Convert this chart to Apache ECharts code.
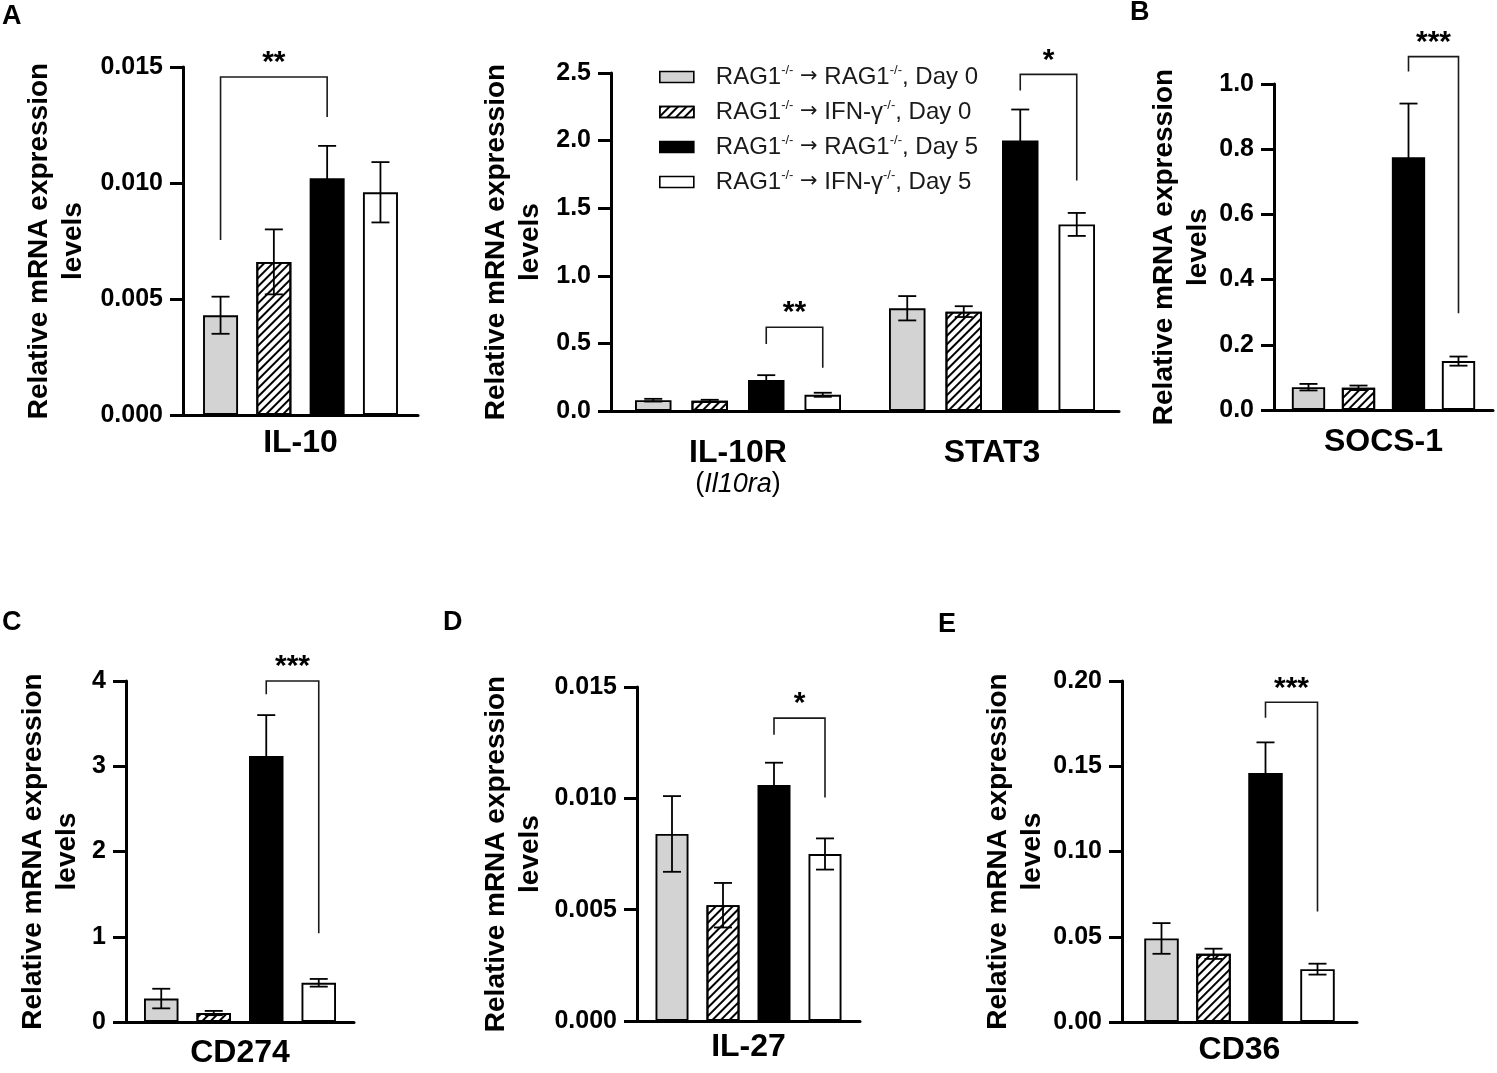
<!DOCTYPE html>
<html>
<head>
<meta charset="utf-8">
<script src="https://cdn.jsdelivr.net/npm/echarts@6/dist/echarts.min.js"></script>
<style>
  html, body { margin: 0; padding: 0; background: #fff; }
  #chart { width: 1497px; height: 1073px; }
</style>
</head>
<body>
<div id="chart"></div>
<script>
// groups (series), one per bar colour
var groups = [
  'RAG1-/- → RAG1-/-, Day 0',
  'RAG1-/- → IFN-γ-/-, Day 0',
  'RAG1-/- → RAG1-/-, Day 5',
  'RAG1-/- → IFN-γ-/-, Day 5'
];

// A, left: IL-10
var il10Cats = ['IL-10'];
var il10Mean = [[0.0043], [0.0066], [0.0102], [0.0096]];
var il10Sem  = [[0.0008], [0.0014], [0.0014], [0.0013]];
// [category, group a, group b, bracket top, left leg end, right leg end]
var il10Sig  = [[0, 0, 2, 0.01457, 0.00754, 0.01284]];
var il10Stars = ['**'];

// A, right: IL-10R and STAT3
var a2Cats = ['IL-10R', 'STAT3'];
var a2Genes = ['Il10ra', ''];
var a2Mean = [[0.080, 0.760], [0.075, 0.735], [0.230, 2.000], [0.120, 1.380]];
var a2Sem  = [[0.010, 0.090], [0.008, 0.040], [0.035, 0.230], [0.015, 0.085]];
var a2Sig  = [[0, 2, 3, 0.62, 0.496, 0.32], [1, 2, 3, 2.49, 2.37, 1.705]];
var a2Stars = ['**', '*'];

// B: SOCS-1
var socsCats = ['SOCS-1'];
var socsMean = [[0.070], [0.068], [0.775], [0.150]];
var socsSem  = [[0.010], [0.007], [0.165], [0.014]];
var socsSig  = [[0, 2, 3, 1.084, 1.038, 0.297]];
var socsStars = ['***'];

// C: CD274
var cd274Cats = ['CD274'];
var cd274Mean = [[0.275], [0.105], [3.12], [0.46]];
var cd274Sem  = [[0.115], [0.025], [0.48], [0.045]];
var cd274Sig  = [[0, 2, 3, 4.0, 3.844, 1.04]];
var cd274Stars = ['***'];

// D: IL-27
var il27Cats = ['IL-27'];
var il27Mean = [[0.0084], [0.0052], [0.0106], [0.0075]];
var il27Sem  = [[0.0017], [0.0010], [0.0010], [0.0007]];
var il27Sig  = [[0, 2, 3, 0.0136, 0.01286, 0.01004]];
var il27Stars = ['*'];

// E: CD36
var cd36Cats = ['CD36'];
var cd36Mean = [[0.049], [0.040], [0.146], [0.031]];
var cd36Sem  = [[0.009], [0.003], [0.018], [0.0032]];
var cd36Sig  = [[0, 2, 3, 0.1875, 0.1785, 0.0648]];
var cd36Stars = ['***'];

// y axes: max, step, decimals
var yMax = [0.015, 2.5, 1.0, 4, 0.015, 0.20];
var yStep = [0.005, 0.5, 0.2, 1, 0.005, 0.05];
var yDec = [3, 1, 1, 0, 3, 2];

var FONT = '"Liberation Sans", Arial, Helvetica, sans-serif';

// layout of the six panels
var panels = [
  {cats: il10Cats, mean: il10Mean, sem: il10Sem, sig: il10Sig, stars: il10Stars,
   grid: {left: 183, top: 67, width: 235, height: 348}, bw: 35, gap: 18.3, nameGap: 93, catMargin: 13},
  {cats: a2Cats, mean: a2Mean, sem: a2Sem, sig: a2Sig, stars: a2Stars, genes: a2Genes,
   grid: {left: 611, top: 73, width: 508, height: 338}, bw: 36.5, gap: 20, nameGap: 64, catMargin: 27},
  {cats: socsCats, mean: socsMean, sem: socsSem, sig: socsSig, stars: socsStars,
   grid: {left: 1274, top: 84, width: 219, height: 326}, bw: 33.3, gap: 16.7, nameGap: 57, catMargin: 17},
  {cats: cd274Cats, mean: cd274Mean, sem: cd274Sem, sig: cd274Sig, stars: cd274Stars,
   grid: {left: 126, top: 681, width: 228, height: 341}, bw: 34.5, gap: 18, nameGap: 42, catMargin: 16},
  {cats: il27Cats, mean: il27Mean, sem: il27Sem, sig: il27Sig, stars: il27Stars,
   grid: {left: 637, top: 687, width: 223, height: 334}, bw: 33, gap: 18, nameGap: 90, catMargin: 11},
  {cats: cd36Cats, mean: cd36Mean, sem: cd36Sem, sig: cd36Sig, stars: cd36Stars,
   grid: {left: 1122, top: 681, width: 235, height: 341}, bw: 34.5, gap: 17.5, nameGap: 71, catMargin: 13}
];

var letters = [
  {text: 'A', left: 2, top: 3},
  {text: 'B', left: 1130, top: -1},
  {text: 'C', left: 2, top: 609},
  {text: 'D', left: 443, top: 609},
  {text: 'E', left: 938, top: 611}
];

var hatch = {
  symbol: 'rect', symbolSize: 1,
  dashArrayX: [1, 0], dashArrayY: [1.4, 3.4],
  rotation: -Math.PI / 4, color: '#000'
};
var barStyles = [
  {color: '#d3d3d3', borderColor: '#000', borderWidth: 1.9},
  {color: '#fff', borderColor: '#000', borderWidth: 1.9, decal: hatch},
  {color: '#000', borderColor: '#000', borderWidth: 1.9},
  {color: '#fff', borderColor: '#000', borderWidth: 1.9}
];

var option = {
  animation: false,
  backgroundColor: '#fff',
  textStyle: {fontFamily: FONT},
  title: letters.map(function (l) {
    return {text: l.text, left: l.left, top: l.top, padding: 0,
      textStyle: {fontFamily: FONT, fontSize: 27, fontWeight: 'bold', color: '#000'}};
  }),
  legend: {
    data: groups,
    orient: 'vertical',
    left: 659, top: 64,
    padding: 0,
    itemWidth: 34, itemHeight: 11, itemGap: 10,
    icon: 'rect',
    selectedMode: false,
    itemStyle: {borderColor: '#000', borderWidth: 1.6},
    formatter: function (name) {
      return name.split('-/-').map(function (s) {
        return s.split('→').map(function (t) { return '{n|' + t + '}'; }).join('{a|→}');
      }).join('{s|-/-}');
    },
    textStyle: {
      padding: [0, 0, 0, 17],
      rich: {
        n: {fontFamily: FONT, fontSize: 24, color: '#1a1a1a', lineHeight: 26},
        a: {fontFamily: '"DejaVu Sans", sans-serif', fontSize: 21, color: '#1a1a1a', lineHeight: 26},
        s: {fontFamily: FONT, fontSize: 13, color: '#1a1a1a', lineHeight: 14, verticalAlign: 'top'}
      }
    }
  },
  grid: [], xAxis: [], yAxis: [], series: []
};

panels.forEach(function (p, k) {
  var g = p.grid;
  option.grid.push({left: g.left, top: g.top, width: g.width, height: g.height, outerBoundsMode: 'none', containLabel: false});

  option.xAxis.push({
    type: 'category', gridIndex: k, data: p.cats,
    axisLine: {show: true, lineStyle: {color: '#000', width: 3}},
    axisTick: {show: false},
    splitLine: {show: false},
    axisLabel: {
      interval: 0, margin: p.catMargin, color: '#000',
      fontFamily: FONT, fontSize: 32, fontWeight: 'bold',
      formatter: function (v, idx) {
        var gene = p.genes ? p.genes[idx] : '';
        return gene ? '{b|' + v + '}\n{p|(}{i|' + gene + '}{p|)}' : '{b|' + v + '}';
      },
      rich: {
        b: {fontFamily: FONT, fontSize: 32, fontWeight: 'bold', color: '#000', lineHeight: 31},
        p: {fontFamily: FONT, fontSize: 27, fontWeight: 'normal', color: '#000', lineHeight: 30},
        i: {fontFamily: FONT, fontSize: 27, fontWeight: 'normal', fontStyle: 'italic', color: '#000', lineHeight: 30}
      }
    }
  });

  option.yAxis.push({
    type: 'value', gridIndex: k, min: 0, max: yMax[k], interval: yStep[k],
    splitLine: {show: false},
    axisLine: {show: true, lineStyle: {color: '#000', width: 3}},
    axisTick: {show: true, inside: false, length: 13, lineStyle: {color: '#000', width: 3}},
    axisLabel: {
      margin: 20, color: '#000', fontFamily: FONT, fontSize: 25, fontWeight: 'bold',
      formatter: function (v) { return v.toFixed(yDec[k]); }
    },
    name: 'Relative mRNA expression\nlevels',
    nameLocation: 'middle', nameGap: p.nameGap,
    nameTextStyle: {fontFamily: FONT, fontSize: 28, fontWeight: 'bold', color: '#000', lineHeight: 34}
  });

  var step = p.bw + p.gap;
  groups.forEach(function (name, i) {
    option.series.push({
      type: 'bar', name: name, xAxisIndex: k, yAxisIndex: k,
      data: p.mean[i], barWidth: p.bw, barGap: (p.gap / p.bw * 100) + '%',
      itemStyle: barStyles[i],
      emphasis: {disabled: true}
    });
  });

  // error bars (mean ± SEM)
  var ebData = [];
  p.mean.forEach(function (row, i) {
    row.forEach(function (m, c) { ebData.push([c, i, m, p.sem[i][c]]); });
  });
  option.series.push({
    type: 'custom', xAxisIndex: k, yAxisIndex: k, z: 5,
    encode: {x: 0, y: 2},
    data: ebData,
    silent: true,
    renderItem: function (params, api) {
      var c = api.value(0), i = api.value(1), m = api.value(2), s = api.value(3);
      var dx = (i - 1.5) * step;
      var hi = api.coord([c, m + s]);
      var lo = api.coord([c, m - s]);
      var x = hi[0] + dx, cap = 9;
      var st = {stroke: '#000', lineWidth: 1.8};
      return {type: 'group', children: [
        {type: 'line', shape: {x1: x, y1: hi[1], x2: x, y2: lo[1]}, style: st},
        {type: 'line', shape: {x1: x - cap, y1: hi[1], x2: x + cap, y2: hi[1]}, style: st},
        {type: 'line', shape: {x1: x - cap, y1: lo[1], x2: x + cap, y2: lo[1]}, style: st}
      ]};
    }
  });

  // significance brackets
  option.series.push({
    type: 'custom', xAxisIndex: k, yAxisIndex: k, z: 5,
    encode: {x: 0, y: 3},
    data: p.sig,
    silent: true,
    clip: false,
    renderItem: function (params, api) {
      var c = api.value(0), a = api.value(1), b = api.value(2);
      var top = api.coord([c, api.value(3)]);
      var la = api.coord([c, api.value(4)]);
      var rb = api.coord([c, api.value(5)]);
      var xa = top[0] + (a - 1.5) * step, xb = top[0] + (b - 1.5) * step;
      return {type: 'group', children: [
        {type: 'polyline', shape: {points: [[xa, la[1]], [xa, top[1]], [xb, top[1]], [xb, rb[1]]]},
          style: {stroke: '#1a1a1a', lineWidth: 1.6, fill: null}},
        {type: 'text', x: (xa + xb) / 2, y: top[1] - 14,
          style: {text: p.stars[params.dataIndex], fill: '#000', fontFamily: FONT,
            fontSize: 30, fontWeight: 'bold', align: 'center', verticalAlign: 'middle'}}
      ]};
    }
  });
});

var myChart = echarts.init(document.getElementById('chart'));
myChart.setOption(option);
</script>
</body>
</html>
